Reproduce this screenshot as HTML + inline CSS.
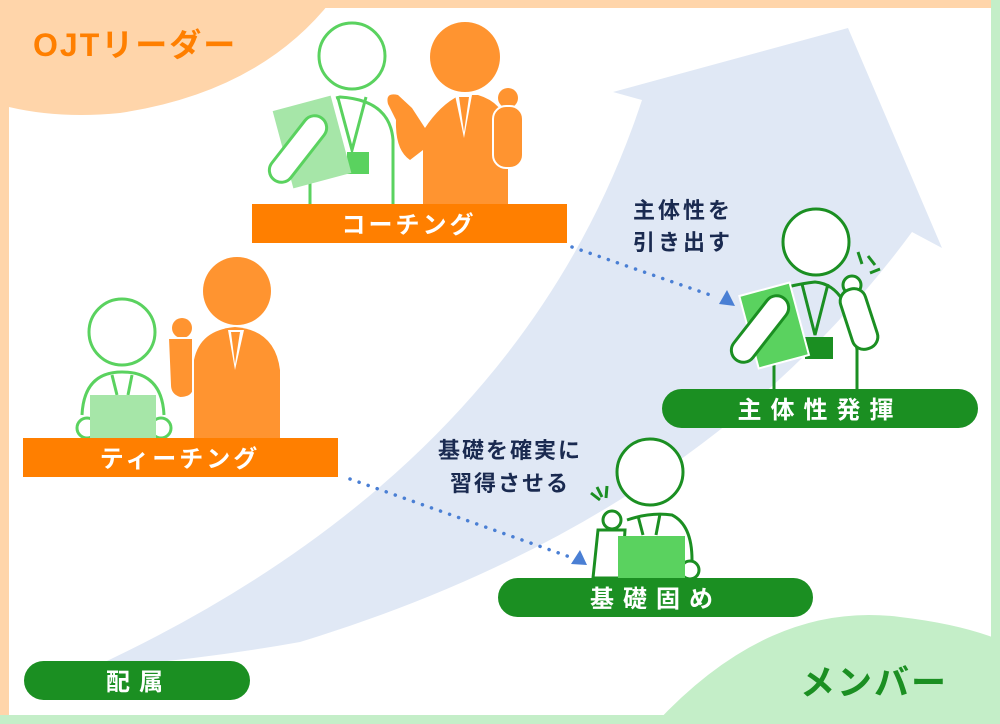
<!DOCTYPE html>
<html><head><meta charset="utf-8"><style>
html,body{margin:0;padding:0;background:#fff}
svg{display:block}
text{font-family:"Liberation Sans","Noto Sans CJK JP",sans-serif;font-weight:bold}
</style></head><body>
<svg width="1000" height="724" viewBox="0 0 1000 724" xmlns="http://www.w3.org/2000/svg">
<rect width="1000" height="724" fill="#fff"/>
<!-- frame -->
<rect x="0" y="0" width="991" height="8" fill="#ffd5aa"/>
<rect x="0" y="0" width="9" height="716" fill="#ffd5aa"/>
<rect x="991" y="0" width="9" height="724" fill="#c4eec8"/>
<rect x="0" y="715" width="1000" height="9" fill="#c4eec8"/>
<path d="M0 0 L332 0 Q 260 92 120 113 Q 60 119 9 107 L0 107 Z" fill="#ffd5aa"/>
<path d="M655 724 Q 770 600 900 617 Q 960 624 1000 640 L1000 724 Z" fill="#c4eec8"/>
<!-- big arrow -->
<path d="M 92 668 Q 520 470 642 100 L 613 92 L 848 28 L 942 248 L 912 232 Q 700 520 300 642 Q 200 660 92 668 Z" fill="#e0e8f5"/>
<text x="33" y="56" font-size="32" fill="#ff7f00" letter-spacing="2">OJTリーダー</text>
<text x="800" y="695" font-size="35" fill="#1b8f22" letter-spacing="2">メンバー</text>

<!-- coaching: green person -->
<g stroke="#5ad25f" stroke-width="3" fill="none">
<circle cx="352" cy="56" r="33" fill="#fff"/>
<path d="M310 204 V183 M393 204 V140 Q 390 100 340 97 L 336 98"/>
<path d="M338 98 L 352 150 L 366 97"/>
</g>
<rect x="347" y="152" width="22" height="22" fill="#5ad25f"/>
<rect x="282" y="102" width="60" height="80" fill="#a6e6a8" transform="rotate(-15 312 142)"/>
<rect x="286" y="110" width="24" height="78" rx="12" fill="#fff" stroke="#5ad25f" stroke-width="3" transform="rotate(38 298 149)"/>
<!-- coaching orange -->
<circle cx="465" cy="57" r="35" fill="#ff9430"/>
<path d="M 423 204 V 150 L 410 160 Q 395 150 396 120 L 388 104 Q 385 92 398 95 L 412 108 L 425 128 Q 440 105 460 95 L 478 95 Q 505 103 508 130 V 204 Z" fill="#ff9430"/>
<path d="M455 95 L464 138 L472 95 Z" fill="#fff"/>
<path d="M459 97 L464 132 L469 97 Z" fill="#ff9430"/>
<circle cx="508" cy="98" r="10" fill="#ff9430"/>
<rect x="493" y="106" width="30" height="62" rx="13" fill="#ff9430" stroke="#fff" stroke-width="2"/>
<rect x="252" y="204" width="315" height="39" fill="#ff7f00"/>
<text x="409" y="233" font-size="24" fill="#fff" text-anchor="middle" letter-spacing="3">コーチング</text>

<!-- teaching -->
<g stroke="#5ad25f" stroke-width="3" fill="#fff">
<circle cx="122" cy="332" r="33"/>
<path d="M82 415 Q 84 372 122 372 Q 162 372 164 415" fill="none"/>
<path d="M112 375 L117 395 M132 375 L128 395" fill="none"/>
<circle cx="87" cy="428" r="10"/>
<circle cx="161" cy="428" r="10"/>
</g>
<rect x="90" y="395" width="66" height="43" fill="#a6e6a8"/>
<circle cx="237" cy="291" r="34" fill="#ff9430"/>
<path d="M194 438 V 360 Q 200 330 235 327 Q 275 330 280 370 V 438 Z" fill="#ff9430"/>
<path d="M228 330 L235 370 L244 330 Z" fill="#fff"/>
<path d="M231 332 L235 364 L240 332 Z" fill="#ff9430"/>
<circle cx="182" cy="328" r="10" fill="#ff9430"/>
<path d="M168 338 H 193 V 392 Q 190 398 180 398 Q 170 395 170 385 Z" fill="#ff9430" stroke="#fff" stroke-width="2"/>
<rect x="23" y="438" width="315" height="39" fill="#ff7f00"/>
<text x="180" y="467" font-size="24" fill="#fff" text-anchor="middle" letter-spacing="3">ティーチング</text>

<!-- 主体性発揮 figure -->
<g stroke="#1b8f22" stroke-width="3" fill="#fff">
<circle cx="816" cy="242" r="33"/>
<path d="M774 389 V 365 M857 389 V 350 Q 850 285 815 282 Q 790 285 780 290" fill="none"/>
<path d="M802 284 L815 335 L828 284" fill="none"/>
<path d="M858 252 L862 264 M868 256 L875 265 M880 269 L870 273" fill="none"/>
</g>
<rect x="805" y="337" width="28" height="22" fill="#1b8f22"/>
<rect x="748" y="288" width="52" height="75" fill="#5ad25f" stroke="#fff" stroke-width="2" transform="rotate(-15 774 325)"/>
<rect x="748" y="290" width="24" height="78" rx="12" fill="#fff" stroke="#1b8f22" stroke-width="3" transform="rotate(38 760 329)"/>
<circle cx="852" cy="285" r="9" fill="#fff" stroke="#1b8f22" stroke-width="3"/>
<rect x="846" y="288" width="26" height="62" rx="12" fill="#fff" stroke="#1b8f22" stroke-width="3" transform="rotate(-18 859 319)"/>
<rect x="662" y="389" width="316" height="39" rx="19.5" fill="#1b8f22"/>
<text x="820" y="418" font-size="24" fill="#fff" text-anchor="middle" letter-spacing="9">主体性発揮</text>

<!-- 基礎固め figure -->
<g stroke="#1b8f22" stroke-width="3" fill="#fff">
<circle cx="650" cy="472" r="33"/>
<path d="M627 520 Q 650 512 672 515 Q 692 525 692 560" fill="none"/>
<path d="M638 516 L643 535 M660 514 L656 535" fill="none"/>
<circle cx="690" cy="570" r="9"/>
<circle cx="612" cy="520" r="9"/>
<path d="M598 530 H 625 L 622 578 H 593 Z"/>
<path d="M591 493 L600 500 M597 487 L602 497 M607 486 L606 498" fill="none"/>
</g>
<rect x="618" y="536" width="67" height="42" fill="#5ad25f"/>
<rect x="498" y="578" width="315" height="39" rx="19.5" fill="#1b8f22"/>
<text x="656" y="607" font-size="24" fill="#fff" text-anchor="middle" letter-spacing="9">基礎固め</text>

<!-- 配属 -->
<rect x="24" y="661" width="226" height="39" rx="19.5" fill="#1b8f22"/>
<text x="139" y="690" font-size="24" fill="#fff" text-anchor="middle" letter-spacing="9">配属</text>

<!-- labels -->
<text x="683" y="218" font-size="22" fill="#1a2a50" text-anchor="middle" letter-spacing="3">主体性を</text>
<text x="683" y="250" font-size="22" fill="#1a2a50" text-anchor="middle" letter-spacing="3">引き出す</text>
<text x="510" y="458" font-size="22" fill="#1a2a50" text-anchor="middle" letter-spacing="2">基礎を確実に</text>
<text x="510" y="491" font-size="22" fill="#1a2a50" text-anchor="middle" letter-spacing="2">習得させる</text>

<!-- dotted arrows -->
<line x1="572" y1="247" x2="716" y2="297" stroke="#4a7fd4" stroke-width="3.5" stroke-linecap="round" stroke-dasharray="0.1 9.5"/>
<polygon points="719,304 727,290 735,306" fill="#4a7fd4"/>
<line x1="350" y1="479" x2="570" y2="557" stroke="#4a7fd4" stroke-width="3.5" stroke-linecap="round" stroke-dasharray="0.1 9.5"/>
<polygon points="571,564 580,550 587,565" fill="#4a7fd4"/>
</svg>
</body></html>
